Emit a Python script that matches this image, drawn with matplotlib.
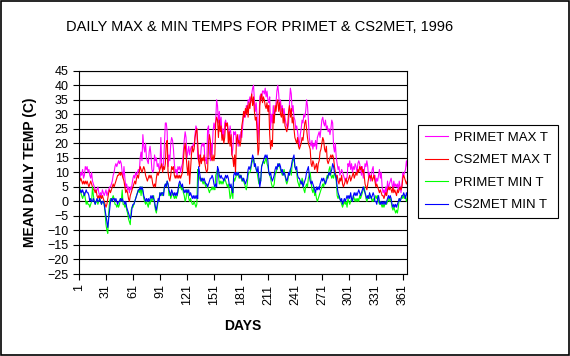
import matplotlib.pyplot as plt
import numpy as np
from matplotlib.patches import Rectangle

# daily values, day 1..366 (1996)
primet_max = [
    11, 8, 10, 9, 11, 8, 9, 12, 11, 12,
    10, 11, 9, 8, 10, 7, 6, 5, 4, 3,
    4, 5, 3, 2, 3, 2, 4, 3, 2, 3,
    4, 2, 3, 4, 5, 5, 6, 7, 9, 10,
    12, 13, 12, 13, 14, 13, 14, 13, 10, 8,
    12, 8, 5, 6, 4, 5, 3, 5, 4, 6,
    8, 9, 8, 10, 9, 10, 11, 10, 15, 17,
    14, 23, 19, 17, 20, 15, 14, 13, 17, 19,
    16, 11, 10, 11, 16, 14, 15, 12, 13, 11,
    12, 22, 12, 11, 13, 20, 27, 27, 24, 12,
    16, 14, 20, 22, 21, 18, 13, 10, 11, 9,
    12, 11, 12, 10, 12, 13, 17, 21, 24, 22,
    15, 17, 19, 16, 18, 19, 18, 20, 19, 23,
    26, 25, 15, 14, 16, 15, 19, 20, 19, 20,
    14, 15, 13, 25, 26, 17, 14, 20, 16, 24,
    27, 25, 28, 35, 33, 27, 31, 26, 29, 22,
    25, 21, 27, 28, 26, 27, 24, 22, 26, 23,
    16, 18, 24, 23, 24, 20, 22, 19, 23, 21,
    24, 22, 26, 30, 31, 29, 33, 31, 35, 34,
    36, 34, 37, 39, 40, 35, 31, 34, 29, 21,
    27, 36, 37, 35, 38, 38, 37, 39, 36, 38,
    35, 34, 36, 25, 30, 27, 33, 29, 31, 34,
    38, 40, 37, 32, 35, 31, 33, 30, 32, 29,
    27, 26, 25, 27, 34, 39, 37, 31, 33, 29,
    28, 25, 26, 24, 21, 19, 23, 25, 28, 27,
    30, 29, 31, 35, 33, 28, 22, 20, 19, 21,
    18, 20, 19, 21, 18, 22, 23, 24, 22, 25,
    28, 29, 27, 26, 28, 25, 26, 24, 25, 23,
    25, 28, 27, 19, 17, 20, 15, 13, 11, 12,
    9, 10, 11, 10, 9, 8, 7, 8, 8, 13,
    12, 14, 11, 13, 10, 12, 11, 13, 12, 10,
    13, 14, 13, 11, 9, 12, 8, 10, 13, 12,
    14, 12, 8, 10, 7, 9, 11, 12, 8, 9,
    6, 8, 7, 9, 11, 8, 10, 5, 3, 4,
    2, 5, 3, 7, 4, 6, 7, 8, 6, 4,
    7, 5, 6, 5, 6, 4, 7, 5, 3, 6,
    10, 9, 10, 11, 14, 12,
]

cs2met_max = [
    8, 7, 8, 7, 6, 7, 6, 7, 6, 7,
    6, 5, 6, 7, 6, 5, 4, 4, 3, 4,
    2, 1, 2, 1, 2, 1, 2, 1, 0, -1,
    -2, -1, 1, 3, 4, 3, 4, 5, 6, 5,
    6, 7, 8, 9, 9, 10, 9, 10, 9, 8,
    7, 5, 3, 4, 3, 1, 0, 2, 3, 4,
    5, 6, 7, 6, 8, 9, 8, 10, 12, 11,
    10, 11, 12, 11, 9, 8, 7, 8, 9, 8,
    9, 8, 6, 5, 6, 5, 8, 10, 9, 10,
    11, 12, 13, 10, 12, 11, 13, 20, 21, 10,
    8, 7, 9, 12, 11, 12, 9, 8, 9, 8,
    9, 8, 9, 8, 9, 10, 14, 18, 20, 16,
    12, 9, 14, 6, 11, 16, 19, 17, 18, 22,
    24, 25, 20, 14, 12, 16, 13, 15, 14, 16,
    13, 11, 10, 11, 20, 23, 21, 15, 14, 16,
    14, 16, 27, 29, 28, 22, 28, 24, 26, 21,
    23, 20, 22, 27, 26, 27, 20, 24, 19, 23,
    16, 15, 12, 16, 10, 21, 23, 20, 21, 19,
    21, 26, 28, 31, 29, 32, 30, 33, 29, 34,
    32, 35, 37, 33, 36, 31, 28, 29, 24, 16,
    18, 33, 36, 37, 34, 36, 35, 33, 32, 34,
    31, 33, 23, 18, 21, 19, 30, 27, 33, 31,
    34, 35, 31, 34, 30, 29, 32, 27, 30, 26,
    25, 24, 26, 31, 33, 29, 32, 27, 29, 25,
    22, 21, 20, 22, 19, 18, 19, 20, 22, 21,
    24, 27, 28, 25, 22, 20, 19, 18, 13, 12,
    14, 13, 11, 12, 13, 10, 13, 14, 17, 18,
    20, 22, 21, 18, 17, 19, 14, 13, 14, 15,
    16, 15, 16, 15, 12, 10, 8, 9, 7, 6,
    8, 7, 9, 6, 5, 6, 7, 8, 6, 7,
    8, 9, 7, 8, 9, 10, 8, 9, 10, 9,
    11, 10, 12, 11, 12, 10, 11, 9, 6, 5,
    4, 6, 8, 9, 8, 9, 7, 8, 9, 7,
    5, 6, 5, 4, 3, 4, 3, 2, 2, 1,
    2, 3, 2, 4, 5, 4, 5, 4, 3, 5,
    3, 4, 3, 2, 4, 3, 4, 5, 4, 5,
    8, 9, 8, 7, 6, 7,
]

primet_min = [
    2, 5, 3, 2, 1, 2, 3, 1, -1, 0,
    -1, -1, -2, -1, 0, 5, 2, 0, -1, 0,
    0, -1, 0, 1, 0, -1, 0, 0, -1, -4,
    -8, -10, -11, -4, 0, 1, 0, 1, 2, 1,
    -1, -1, -2, -1, -2, -1, 1, 0, 4, -1,
    -1, -2, -1, -3, -4, -6, -7, -8, -3, -2,
    -2, -1, 0, 1, 2, 3, 4, 3, 5, 2,
    5, 3, 1, 0, -1, 0, -1, -2, 0, -1,
    1, 0, 1, 2, -1, -3, -4, -2, 0, 1,
    3, 2, 3, 2, 3, 5, 6, 5, 7, 6,
    2, 3, 1, 2, 3, 2, 1, 2, 1, 2,
    3, 5, 6, 5, 4, 5, 3, 2, 0, 1,
    4, 3, 1, 0, 1, 0, -1, -1, 0, -1,
    -2, -1, 11, 9, 8, 7, 8, 7, 6, 7,
    6, 5, 6, 5, 4, 3, 4, 4, 5, 4,
    5, 4, 9, 10, 11, 9, 6, 7, 6, 7,
    6, 7, 8, 7, 6, 5, 6, 4, 1, 2,
    5, 1, 8, 7, 8, 9, 10, 9, 8, 9,
    9, 7, 8, 7, 6, 5, 4, 6, 9, 10,
    10, 11, 13, 14, 15, 13, 12, 11, 10, 8,
    6, 8, 7, 12, 13, 14, 13, 14, 15, 13,
    12, 10, 9, 8, 6, 5, 5, 6, 9, 10,
    11, 12, 13, 12, 11, 10, 9, 10, 11, 9,
    7, 6, 7, 9, 10, 11, 9, 13, 14, 15,
    12, 11, 10, 7, 6, 5, 7, 6, 8, 7,
    4, 3, 5, 6, 5, 8, 9, 10, 7, 4,
    3, 5, 2, 3, 1, 0, 1, 2, 3, 4,
    5, 6, 5, 7, 6, 8, 9, 8, 11, 12,
    9, 8, 9, 8, 10, 9, 7, 2, 1, 2,
    1, 0, -1, -2, -1, 0, -1, 0, -2, 1,
    0, -1, 0, 1, 0, 2, 1, 0, 1, 0,
    1, 0, 2, 1, 2, 3, 4, 5, 3, 1,
    0, 1, 2, 1, 2, 1, 0, 1, 0, 1,
    2, 1, 2, 0, -1, 0, -1, -2, -1, -2,
    -1, 0, -1, 0, 1, 0, 1, 0, -2, -3,
    -2, -3, -4, -3, -4, -2, 1, 0, 1, 2,
    1, 2, 1, 2, 0, 1,
]

cs2met_min = [
    4, 3, 4, 3, 4, 3, 2, 3, 4, 3,
    3, 2, 0, 1, 0, 0, 1, 0, -1, 0,
    1, 0, 0, 1, 0, -1, 0, 0, -1, -3,
    -5, -7, -9, -6, -3, 0, 1, 0, 1, 1,
    0, 1, 0, -1, 0, 0, 1, 0, 1, 0,
    0, -1, 0, -2, -3, -4, -5, -6, -5, -2,
    -1, -1, 0, 1, 2, 3, 4, 4, 5, 4,
    5, 4, 2, 1, 0, 1, 0, 1, 0, 1,
    2, 1, 2, 1, 0, -2, -3, -1, 1, 0,
    3, 2, 3, 3, 2, 5, 6, 5, 7, 6,
    4, 3, 2, 4, 3, 2, 3, 2, 3, 2,
    4, 6, 7, 6, 5, 6, 4, 3, 4, 3,
    4, 3, 4, 2, 3, 2, 1, 2, 1, 2,
    1, 2, 1, 12, 10, 8, 7, 8, 7, 8,
    7, 6, 6, 5, 6, 7, 8, 8, 9, 8,
    6, 5, 6, 5, 12, 11, 9, 8, 9, 8,
    8, 7, 8, 9, 8, 9, 8, 6, 5, 6,
    4, 3, 9, 10, 9, 10, 9, 10, 9, 8,
    9, 8, 7, 8, 7, 6, 7, 8, 11, 12,
    11, 12, 14, 16, 15, 12, 13, 11, 10, 12,
    8, 5, 7, 12, 13, 14, 15, 16, 15, 16,
    14, 10, 9, 10, 8, 7, 8, 9, 11, 12,
    11, 13, 12, 13, 12, 10, 11, 9, 10, 9,
    8, 7, 8, 10, 9, 11, 12, 14, 15, 16,
    12, 11, 12, 9, 8, 8, 7, 6, 7, 5,
    6, 7, 8, 10, 11, 12, 9, 7, 6, 7,
    6, 5, 4, 3, 5, 4, 5, 4, 6, 7,
    8, 7, 8, 7, 6, 7, 8, 9, 10, 9,
    10, 11, 13, 12, 10, 9, 8, 5, 3, 2,
    1, 0, 1, -1, 0, 1, 0, 1, 2, 1,
    2, 1, 3, 1, 0, 2, 3, 2, 3, 2,
    3, 4, 3, 2, 3, 4, 5, 4, 3, 2,
    1, 2, 1, 3, 2, 1, 2, 3, 2, 0,
    0, -1, 1, 2, 0, -1, 0, -1, 0, -1,
    0, -1, 0, 1, 2, 1, 2, 1, -1, -2,
    -1, -2, -1, -2, -1, 0, 1, 0, 1, 2,
    2, 3, 2, 1, 3, 2,
]

series_names = ['PRIMET MAX T', 'CS2MET MAX T', 'PRIMET MIN T', 'CS2MET MIN T']
series_colors = ['#FF00FF', '#FF0000', '#00FF00', '#0000FF']
y_ticks = list(range(-25, 50, 5))
x_ticks = list(range(1, 366, 30))

days = np.arange(1, 367)

plt.rcParams['font.family'] = ['Liberation Sans', 'DejaVu Sans']

fig = plt.figure(figsize=(5.7, 3.56), dpi=100)
fig.patch.set_facecolor('white')
# thin black frame round the whole picture
fig.patches.append(Rectangle((0.001, 0.002), 0.997, 0.995, transform=fig.transFigure,
                             fill=False, edgecolor='black', lw=1.2))

ax = fig.add_axes([0.1386, 0.2303, 0.576, 0.571])
for vals, name, col in zip([primet_max, cs2met_max, primet_min, cs2met_min],
                           series_names, series_colors):
    ax.plot(days, vals, color=col, lw=0.8, label=name)

ax.set_xlim(1, 366)
ax.set_ylim(-25, 45)
ax.set_yticks(y_ticks)
ax.set_xticks(x_ticks)
ax.set_xticklabels([str(t) for t in x_ticks], rotation=90)
ax.tick_params(axis='both', labelsize=9, length=4, width=0.8, color='black')
ax.yaxis.grid(True, color='black', lw=0.8)
ax.set_axisbelow(True)
for s in ax.spines.values():
    s.set_color('black')
    s.set_linewidth(0.8)

fig.text(0.456, 0.924, 'DAILY MAX & MIN TEMPS FOR PRIMET & CS2MET, 1996',
         ha='center', va='center', fontsize=10.5)
fig.text(0.053, 0.517, 'MEAN DAILY TEMP (C)', rotation=90, ha='center', va='center',
         fontsize=10, fontweight='bold')
fig.text(0.426, 0.084, 'DAYS', ha='center', va='center', fontsize=10, fontweight='bold')

leg = fig.legend(loc='upper left', bbox_to_anchor=(418 / 570, 1 - 125 / 356),
                 bbox_transform=fig.transFigure, frameon=True, fancybox=False,
                 edgecolor='black', framealpha=1, borderaxespad=0, fontsize=9.5,
                 handlelength=1.75, handletextpad=0.45, labelspacing=0.78, borderpad=0.5)
leg.get_frame().set_linewidth(0.8)

fig.savefig('out.png', dpi=100)
